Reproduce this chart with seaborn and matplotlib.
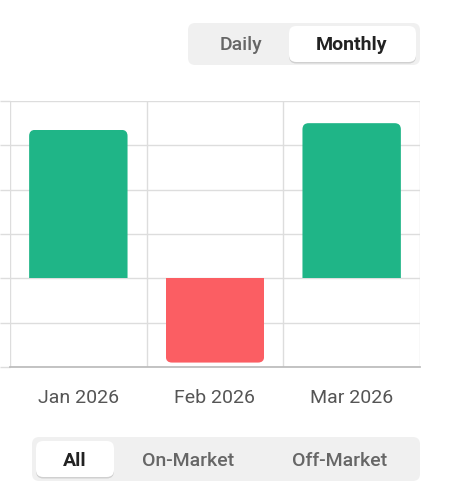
import matplotlib
matplotlib.use("Agg")
import matplotlib.pyplot as plt
import seaborn as sns
import pandas as pd
from matplotlib.patches import FancyBboxPatch

months = ["Jan 2026", "Feb 2026", "Mar 2026"]
values = [3.35, -1.9, 3.5]
bar_colors = ["#1fb587" if v >= 0 else "#fb5e63" for v in values]
yticks = [-2, -1, 0, 1, 2, 3, 4]
period_options = ["Daily", "Monthly"]
market_options = ["All", "On-Market", "Off-Market"]

sns.set_theme(style="white")
plt.rcParams['font.family'] = ['Roboto', 'DejaVu Sans']

W, H = 452, 489
fig = plt.figure(figsize=(W/100, H/100), dpi=100)
ax = fig.add_axes([10/W, (H-368)/H, 410/W, 266/H])
df = pd.DataFrame({"month": months, "value": values})
sns.barplot(data=df, x="month", y="value", hue="month", palette=bar_colors,
            legend=False, width=0.72, ax=ax, saturation=1)
ax.set_ylim(-2, 4)
ax.set_xlim(-0.5, 2.5)
ax.set_yticks(yticks)
ax.set_yticklabels([])
ax.set_xticks([-0.5, 0.5, 1.5, 2.5], minor=False)
ax.set_xticklabels([])
ax.set_xticks([0, 1, 2], minor=True)
ax.set_xticklabels(months, minor=True, color="#555555", fontsize=14)
ax.tick_params(axis="x", which="minor", length=0, pad=15)
ax.tick_params(axis="x", which="major", length=9.5, color="#dddddd", width=1)
ax.tick_params(axis="y", length=7, color="#dddddd", width=1, left=True)
ax.grid(True, color="#dddddd", lw=1)
ax.set_axisbelow(True)
for s in ["top", "right", "left"]:
    ax.spines[s].set_visible(False)
ax.spines["bottom"].set_color("#bbbbbb")
ax.set_xlabel(""); ax.set_ylabel("")

aspect = (6/266) / (3/410)
for p in ax.patches:
    x0, y0 = p.get_x(), p.get_y()
    w, h = p.get_width(), p.get_height()
    ylo, yhi = min(y0, y0+h), max(y0, y0+h)
    r = 0.045
    if h > 0:
        clip = FancyBboxPatch((x0, ylo - 1), w, (yhi - ylo) + 1,
                              boxstyle=f"round,pad=0,rounding_size={r}",
                              mutation_aspect=aspect, transform=ax.transData)
    else:
        clip = FancyBboxPatch((x0, ylo), w, (yhi - ylo) + 1,
                              boxstyle=f"round,pad=0,rounding_size={r}",
                              mutation_aspect=aspect, transform=ax.transData)
    p.set_clip_path(clip)
    p.set_edgecolor("none")

def px(x, y, w, h):
    return (x/W, 1 - (y+h)/H, w/W, h/H)

def pill(x, y, w, h, fc, ec="none", shadow=False):
    fx, fy, fw, fh = px(x, y, w, h)
    if shadow:
        sx, sy, sw, sh = px(x, y+1.5, w, h)
        fig.patches.append(FancyBboxPatch((sx, sy), sw, sh, boxstyle="round,pad=0,rounding_size=0.016",
                           transform=fig.transFigure, fc="#00000022", ec="none", mutation_aspect=W/H))
    fig.patches.append(FancyBboxPatch((fx, fy), fw, fh, boxstyle="round,pad=0,rounding_size=0.016",
                       transform=fig.transFigure, fc=fc, ec=ec, mutation_aspect=W/H))

fs = 14
pill(188, 24, 232, 42, "#f0f0f0")
pill(289, 27, 127, 36, "#ffffff", shadow=True)
fig.text(241/W, 1-45/H, period_options[0], ha="center", va="center", fontsize=fs, color="#666666", fontweight="medium")
fig.text(352/W, 1-45/H, period_options[1], ha="center", va="center", fontsize=fs, color="#222222", fontweight="bold")

pill(32, 438, 388, 44, "#f0f0f0")
pill(36, 442, 78, 36, "#ffffff", shadow=True)
fig.text(75/W, 1-461/H, market_options[0], ha="center", va="center", fontsize=fs, color="#222222", fontweight="bold")
fig.text(188/W, 1-461/H, market_options[1], ha="center", va="center", fontsize=fs, color="#666666", fontweight="medium")
fig.text(340/W, 1-461/H, market_options[2], ha="center", va="center", fontsize=fs, color="#666666", fontweight="medium")

fig.savefig("out.png", dpi=100)
